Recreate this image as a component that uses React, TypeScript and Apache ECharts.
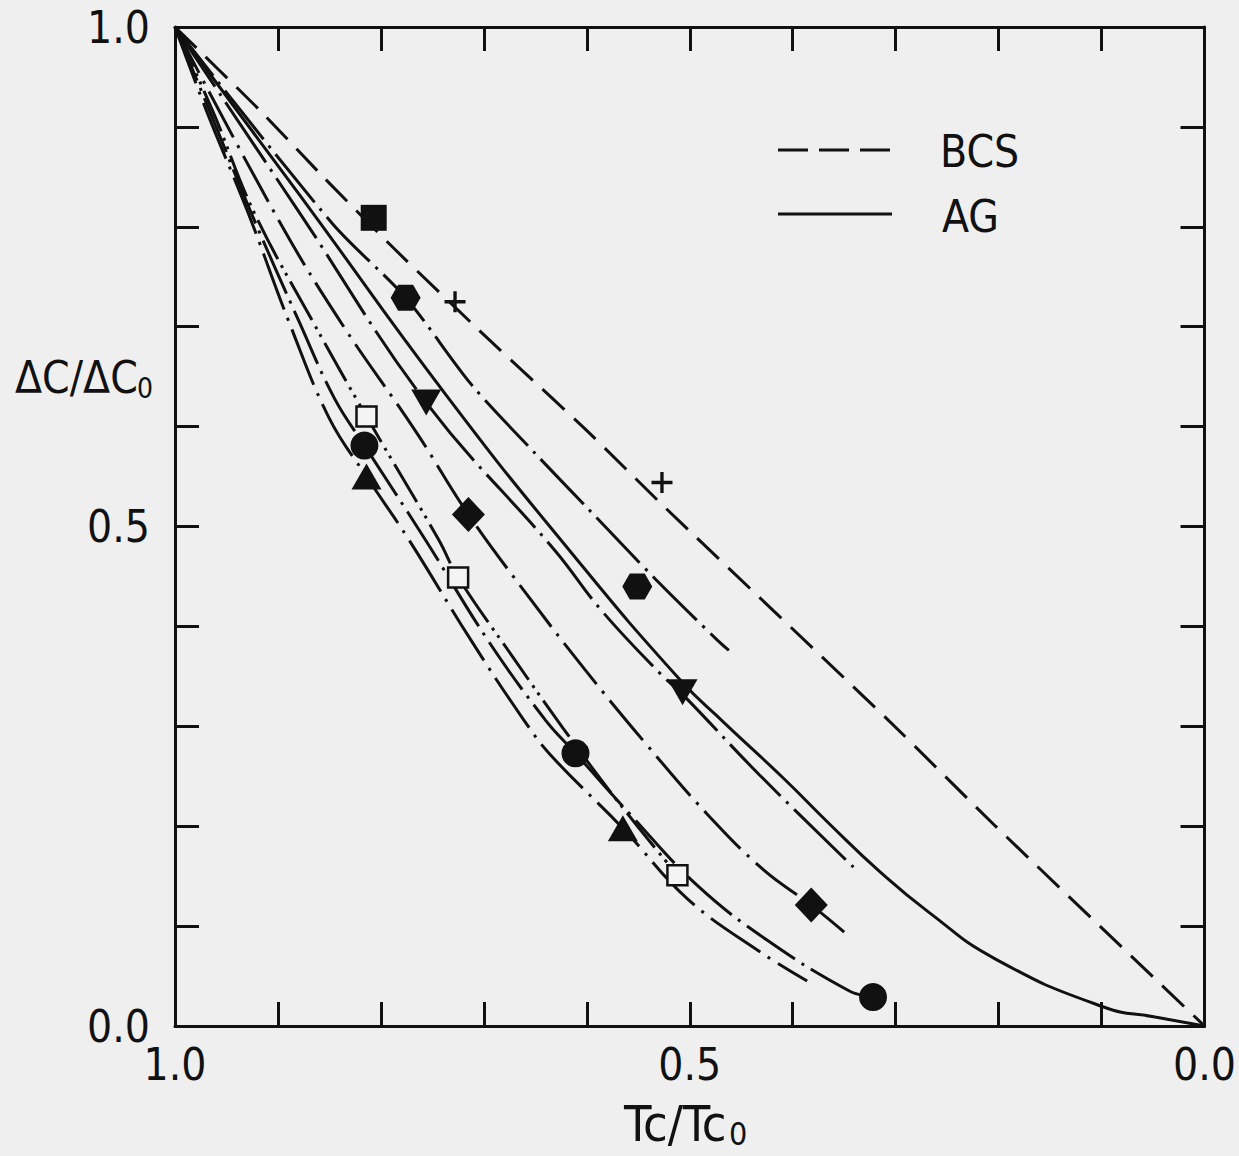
import React, { useEffect, useRef } from "react";
import * as echarts from "echarts";

const FONT = "'Liberation Sans Narrow', 'DejaVu Sans Condensed', 'Liberation Sans', sans-serif";
const INK = "#111111";

// Tick labels
const X_TICK_LABELS = ["1.0", "0.5", "0.0"];
const Y_TICK_LABELS = ["1.0", "0.5", "0.0"];

// Curves: Tc/Tc0 (t) and ΔC/ΔC0 (v)
const BCS_T = [1, 0.918, 0.857, 0.786, 0.696, 0.602, 0.522, 0.306, 0.203, 0];
const BCS_V = [1, 0.917, 0.851, 0.777, 0.688, 0.598, 0.517, 0.305, 0.2, 0];

const AG_T = [1, 0.879, 0.737, 0.616, 0.509, 0.467, 0.409, 0.364, 0.316, 0.268, 0.203, 0.098, 0.048, 0];
const AG_V = [1, 0.832, 0.632, 0.475, 0.346, 0.304, 0.248, 0.202, 0.155, 0.114, 0.067, 0.019, 0.009, 0];

const HEX_LINE_T = [1, 0.847, 0.776, 0.712, 0.65, 0.599, 0.533, 0.473, 0.462];
const HEX_LINE_V = [1, 0.803, 0.729, 0.642, 0.573, 0.518, 0.447, 0.386, 0.376];

const INV_LINE_T = [1, 0.879, 0.756, 0.631, 0.585, 0.528, 0.507, 0.432, 0.341];
const INV_LINE_V = [1, 0.814, 0.624, 0.476, 0.415, 0.352, 0.332, 0.251, 0.159];

const DIA_LINE_T = [1, 0.899, 0.838, 0.766, 0.715, 0.659, 0.602, 0.543, 0.483, 0.428, 0.382, 0.35];
const DIA_LINE_V = [1, 0.806, 0.703, 0.595, 0.512, 0.433, 0.357, 0.283, 0.212, 0.156, 0.121, 0.094];

const CIR_LINE_T = [1, 0.966, 0.926, 0.879, 0.845, 0.816, 0.757, 0.696, 0.64, 0.611, 0.558, 0.493, 0.425, 0.345, 0.322];
const CIR_LINE_V = [1, 0.915, 0.814, 0.704, 0.628, 0.581, 0.487, 0.386, 0.306, 0.273, 0.212, 0.141, 0.086, 0.035, 0.029];

const TRI_LINE_T = [1, 0.969, 0.929, 0.889, 0.85, 0.814, 0.773, 0.713, 0.661, 0.635, 0.565, 0.502, 0.43, 0.386];
const TRI_LINE_V = [1, 0.915, 0.814, 0.704, 0.608, 0.55, 0.487, 0.387, 0.306, 0.271, 0.198, 0.127, 0.073, 0.045];

const SQ_LINE_T = [1, 0.963, 0.923, 0.865, 0.814, 0.744, 0.725, 0.673, 0.623, 0.57, 0.512];
const SQ_LINE_V = [1, 0.915, 0.814, 0.703, 0.61, 0.487, 0.449, 0.371, 0.298, 0.225, 0.151];

// Data points
const SQUARE_T = [0.807];
const SQUARE_V = [0.809];
const PLUS_T = [0.728, 0.527];
const PLUS_V = [0.725, 0.544];
const HEX_T = [0.776, 0.551];
const HEX_V = [0.729, 0.44];
const INV_T = [0.756, 0.507];
const INV_V = [0.624, 0.334];
const DIA_T = [0.715, 0.382];
const DIA_V = [0.512, 0.121];
const CIRCLE_T = [0.816, 0.611, 0.322];
const CIRCLE_V = [0.581, 0.273, 0.029];
const TRI_T = [0.814, 0.565];
const TRI_V = [0.55, 0.198];
const OPEN_T = [0.814, 0.725, 0.512];
const OPEN_V = [0.61, 0.449, 0.151];

const pairs = (t: number[], v: number[]) => t.map((x, i) => [x, v[i]]);

const HEX_PATH = "path://M0,8.66 L5,0 L15,0 L20,8.66 L15,17.32 L5,17.32 Z";
const PLUS_PATH = "path://M8.4,0 L11.6,0 L11.6,20 L8.4,20 Z M0,8.4 L20,8.4 L20,11.6 L0,11.6 Z";

function fmtLabel(labels: string[]) {
  return (val: number) => {
    if (Math.abs(val - 1) < 1e-6) return labels[0];
    if (Math.abs(val - 0.5) < 1e-6) return labels[1];
    if (Math.abs(val) < 1e-6) return labels[2];
    return "";
  };
}

function lineSeries(name: string, t: number[], v: number[], dash: any, smooth = 0.3) {
  return {
    name,
    type: "line",
    data: pairs(t, v),
    showSymbol: false,
    smooth,
    lineStyle: { color: INK, width: 3, type: dash },
    z: 2,
    silent: true,
  };
}

function scatterSeries(name: string, t: number[], v: number[], symbol: string, size: any, extra: any = {}) {
  return {
    name,
    type: "scatter",
    data: pairs(t, v),
    symbol,
    symbolSize: size,
    symbolKeepAspect: false,
    itemStyle: { color: INK, opacity: 1 },
    z: 5,
    ...extra,
  };
}

export default function App() {
  const ref = useRef<HTMLDivElement>(null);

  useEffect(() => {
    document.body.style.margin = "0";
    document.body.style.background = "#efefef";
    const chart = echarts.init(ref.current!, null, { renderer: "svg" });

    const axisLine = { show: true, onZero: false, lineStyle: { color: INK, width: 3 } };
    const axisTick = { show: true, inside: true, length: 24, lineStyle: { color: INK, width: 3 } };

    const option: any = {
      animation: false,
      backgroundColor: "#efefef",
      grid: { left: 175, right: 29, top: 27, bottom: 130 },
      xAxis: [
        {
          type: "value", min: 0, max: 1, interval: 0.1, inverse: true, position: "bottom",
          axisLine, axisTick, splitLine: { show: false },
          axisLabel: { margin: 16, fontSize: 44, fontFamily: FONT, color: INK, formatter: fmtLabel(X_TICK_LABELS) },
        },
        {
          type: "value", min: 0, max: 1, interval: 0.1, inverse: true, position: "top",
          axisLine, axisTick, splitLine: { show: false }, axisLabel: { show: false },
        },
      ],
      yAxis: [
        {
          type: "value", min: 0, max: 1, interval: 0.1, position: "left",
          axisLine, axisTick, splitLine: { show: false },
          axisLabel: { margin: 25, fontSize: 44, fontFamily: FONT, color: INK, formatter: fmtLabel(Y_TICK_LABELS) },
        },
        {
          type: "value", min: 0, max: 1, interval: 0.1, position: "right",
          axisLine, axisTick, splitLine: { show: false }, axisLabel: { show: false },
        },
      ],
      series: [
        lineSeries("BCS", BCS_T, BCS_V, [30, 13], 0.2),
        lineSeries("AG", AG_T, AG_V, "solid", 0.5),
        lineSeries("hex", HEX_LINE_T, HEX_LINE_V, [62, 8, 3, 8]),
        lineSeries("inv", INV_LINE_T, INV_LINE_V, [72, 8, 3, 8], 0.4),
        lineSeries("dia", DIA_LINE_T, DIA_LINE_V, [52, 9, 3, 9], 0.4),
        lineSeries("cir", CIR_LINE_T, CIR_LINE_V, [58, 8, 3, 8], 0.4),
        lineSeries("tri", TRI_LINE_T, TRI_LINE_V, [60, 9, 3, 9], 0.4),
        lineSeries("sq", SQ_LINE_T, SQ_LINE_V, [44, 7, 3, 6, 3, 7], 0.4),
        scatterSeries("square", SQUARE_T, SQUARE_V, "rect", 26),
        scatterSeries("plus", PLUS_T, PLUS_V, PLUS_PATH, 21),
        scatterSeries("hexagon", HEX_T, HEX_V, HEX_PATH, [30, 26]),
        scatterSeries("invtri", INV_T, INV_V, "triangle", [30, 26], { symbolRotate: 180 }),
        scatterSeries("diamond", DIA_T, DIA_V, "diamond", [33, 35]),
        scatterSeries("circle", CIRCLE_T, CIRCLE_V, "circle", 28),
        scatterSeries("triangle", TRI_T, TRI_V, "triangle", [30, 26]),
        scatterSeries("open", OPEN_T, OPEN_V, "rect", 20, {
          itemStyle: { color: "#f4f4f4", borderColor: INK, borderWidth: 2.5, opacity: 1 },
        }),
      ],
      graphic: [
        { type: "line", shape: { x1: 778, y1: 150, x2: 890, y2: 150 }, style: { stroke: INK, lineWidth: 3, lineDash: [30, 11] } },
        { type: "line", shape: { x1: 778, y1: 214, x2: 892, y2: 214 }, style: { stroke: INK, lineWidth: 3 } },
        { type: "text", x: 940, y: 151, style: { text: "BCS", fontSize: 44, fontFamily: FONT, fill: INK, align: "left", verticalAlign: "middle" } },
        { type: "text", x: 942, y: 216, style: { text: "AG", fontSize: 44, fontFamily: FONT, fill: INK, align: "left", verticalAlign: "middle" } },
        { type: "text", x: 15, y: 377, style: { text: "ΔC/ΔC", fontSize: 44, fontFamily: FONT, fill: INK, align: "left", verticalAlign: "middle" } },
        { type: "text", x: 137, y: 388, style: { text: "0", fontSize: 28, fontFamily: FONT, fill: INK, align: "left", verticalAlign: "middle" } },
        { type: "text", x: 624, y: 1124, style: { text: "Tc/Tc", fontSize: 50, fontFamily: FONT, fill: INK, align: "left", verticalAlign: "middle" } },
        { type: "text", x: 729, y: 1134, style: { text: "0", fontSize: 32, fontFamily: FONT, fill: INK, align: "left", verticalAlign: "middle" } },
      ],
    };

    chart.setOption(option);
    return () => chart.dispose();
  }, []);

  return (
    <div
      ref={ref}
      style={{ position: "fixed", left: 0, top: 0, width: 1239, height: 1156, background: "#efefef" }}
    />
  );
}
